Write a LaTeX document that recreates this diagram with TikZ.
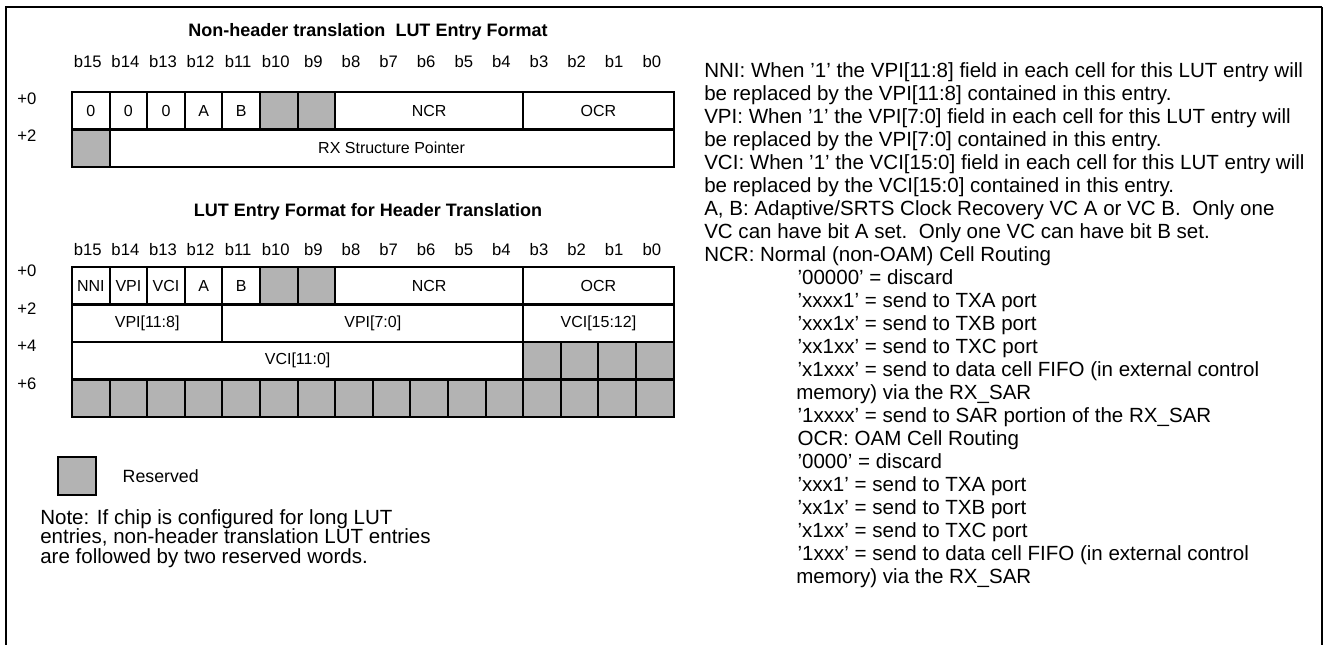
\documentclass[tikz,border=0pt]{standalone}
\usepackage{fontspec}
\setmainfont{Liberation Sans}
\usepackage{tikz}
\usetikzlibrary{positioning}
\definecolor{lutRes}{HTML}{B3B3B3}
\definecolor{lutEdge}{HTML}{000000}
\tikzset{
  lutcell/.style={draw=lutEdge,line width=1.5pt,fill=white,inner sep=0pt,outer sep=0pt,
                  minimum height=28.1pt,font=\fontsize{12}{14}\selectfont},
  lutres/.style={lutcell,fill=lutRes},
  luttitle/.style={font=\bfseries\fontsize{13.5}{16}\selectfont,inner sep=0pt},
  lutbit/.style={font=\fontsize{12.5}{14}\selectfont,inner sep=0pt},
  lutdesc/.style={font=\fontsize{15.4}{17.25}\selectfont,align=left,inner sep=0pt,anchor=north west},
  lutnote/.style={font=\fontsize{15.4}{14.6}\selectfont,align=left,inner sep=0pt,anchor=north west},
}

\begin{document}
\begin{tikzpicture}[x=0.75pt,y=-0.75pt]
  \useasboundingbox (0,0) rectangle (1324,645);
  \draw[line width=1.7pt] (6,645) |- (1322,7);
  \draw[line width=1.1pt] (1322,7) -- (1322,645);

  % non-header translation entry
  \node[luttitle] (nhTitle) at (368,32) {Non-header translation\ \ LUT Entry Format};
  \foreach \c in {0,...,15}{
    \pgfmathtruncatemacro\bn{15-\c}
    \node[lutbit] (nhBit\c) at ({72+37.6*(\c+0.5)-3},62) {b\bn};
  }
  \node[lutbit] (nhOff0) at (27,99) {+0};
  \node[lutbit] (nhOff2) at (27,136) {+2};
  \foreach \nm/\r/\a/\b/\sty/\txt in {
    nhZa/0/0/0/lutcell/0, nhZb/0/1/1/lutcell/0, nhZc/0/2/2/lutcell/0,
    nhA/0/3/3/lutcell/A, nhB/0/4/4/lutcell/B,
    nhRa/0/5/5/lutres/{}, nhRb/0/6/6/lutres/{},
    nhNCR/0/7/11/lutcell/NCR, nhOCR/0/12/15/lutcell/OCR,
    nhRc/1/0/0/lutres/{}, nhRX/1/1/15/lutcell/RX Structure Pointer}{
    \pgfmathsetmacro\cx{72+37.6*(\a+\b+1)/2}
    \pgfmathsetmacro\cy{92+37.5*(\r+0.5)}
    \pgfmathsetmacro\fw{0.75*37.6*(\b-\a+1)}
    \node[\sty,minimum width=\fw pt] (\nm) at (\cx,\cy) {\txt};
  }

  % header translation entry
  \node[luttitle] (htTitle) at (368,212) {LUT Entry Format for Header Translation};
  \foreach \c in {0,...,15}{
    \pgfmathtruncatemacro\bn{15-\c}
    \node[lutbit] (htBit\c) at ({72+37.6*(\c+0.5)-3},250) {b\bn};
  }
  \foreach \r/\o in {0/0,1/2,2/4,3/6}{
    \node[lutbit] (htOff\o) at (27,{271+37.5*\r}) {+\o};
  }
  \foreach \nm/\r/\a/\b/\sty/\txt in {
    htNNI/0/0/0/lutcell/NNI, htVPI/0/1/1/lutcell/VPI, htVCI/0/2/2/lutcell/VCI,
    htA/0/3/3/lutcell/A, htB/0/4/4/lutcell/B,
    htRa/0/5/5/lutres/{}, htRb/0/6/6/lutres/{},
    htNCR/0/7/11/lutcell/NCR, htOCR/0/12/15/lutcell/OCR,
    htVPIhi/1/0/3/lutcell/{VPI[11:8]}, htVPIlo/1/4/11/lutcell/{VPI[7:0]},
    htVCIhi/1/12/15/lutcell/{VCI[15:12]},
    htVCIlo/2/0/11/lutcell/{VCI[11:0]},
    htRc/2/12/12/lutres/{}, htRd/2/13/13/lutres/{}, htRe/2/14/14/lutres/{}, htRf/2/15/15/lutres/{}}{
    \pgfmathsetmacro\cx{72+37.6*(\a+\b+1)/2}
    \pgfmathsetmacro\cy{267+37.5*(\r+0.5)}
    \pgfmathsetmacro\fw{0.75*37.6*(\b-\a+1)}
    \node[\sty,minimum width=\fw pt] (\nm) at (\cx,\cy) {\txt};
  }
  \foreach \c in {0,...,15}{
    \node[lutres,minimum width=28.2pt] (htW\c) at ({72+37.6*(\c+0.5)},{267+37.5*3.5}) {};
  }

  % legend and note
  \node[lutres,minimum width=28.2pt,line width=1.7pt] (legBox) at (77,476) {};
  \node[lutbit,font=\fontsize{13.3}{15}\selectfont,right=20pt of legBox] (legTxt) {Reserved};
  \node[lutnote] (note) at (40,509) {Note: If chip is configured for long LUT\\
    entries, non-header translation LUT entries\\are followed by two reserved words.};

  % field descriptions
  \node[lutdesc] (desc) at (704,62) {NNI: When '1' the VPI[11:8] field in each cell for this LUT entry will\\
    be replaced by the VPI[11:8] contained in this entry.\\
    VPI: When '1' the VPI[7:0] field in each cell for this LUT entry will\\
    be replaced by the VPI[7:0] contained in this entry.\\
    VCI: When '1' the VCI[15:0] field in each cell for this LUT entry will\\
    be replaced by the VCI[15:0] contained in this entry.\\
    A, B: Adaptive/SRTS Clock Recovery VC A or VC B.\ \ Only one\\
    VC can have bit A set.\ \ Only one VC can have bit B set.\\
    NCR: Normal (non-OAM) Cell Routing\\
    \hspace*{70pt}'00000' = discard\\
    \hspace*{70pt}'xxxx1' = send to TXA port\\
    \hspace*{70pt}'xxx1x' = send to TXB port\\
    \hspace*{70pt}'xx1xx' = send to TXC port\\
    \hspace*{70pt}'x1xxx' = send to data cell FIFO (in external control\\
    \hspace*{69pt}memory) via the RX\_SAR\\
    \hspace*{70pt}'1xxxx' = send to SAR portion of the RX\_SAR\\
    \hspace*{70pt}OCR: OAM Cell Routing\\
    \hspace*{70pt}'0000' = discard\\
    \hspace*{70pt}'xxx1' = send to TXA port\\
    \hspace*{70pt}'xx1x' = send to TXB port\\
    \hspace*{70pt}'x1xx' = send to TXC port\\
    \hspace*{70pt}'1xxx' = send to data cell FIFO (in external control\\
    \hspace*{69pt}memory) via the RX\_SAR};
\end{tikzpicture}
\end{document}
